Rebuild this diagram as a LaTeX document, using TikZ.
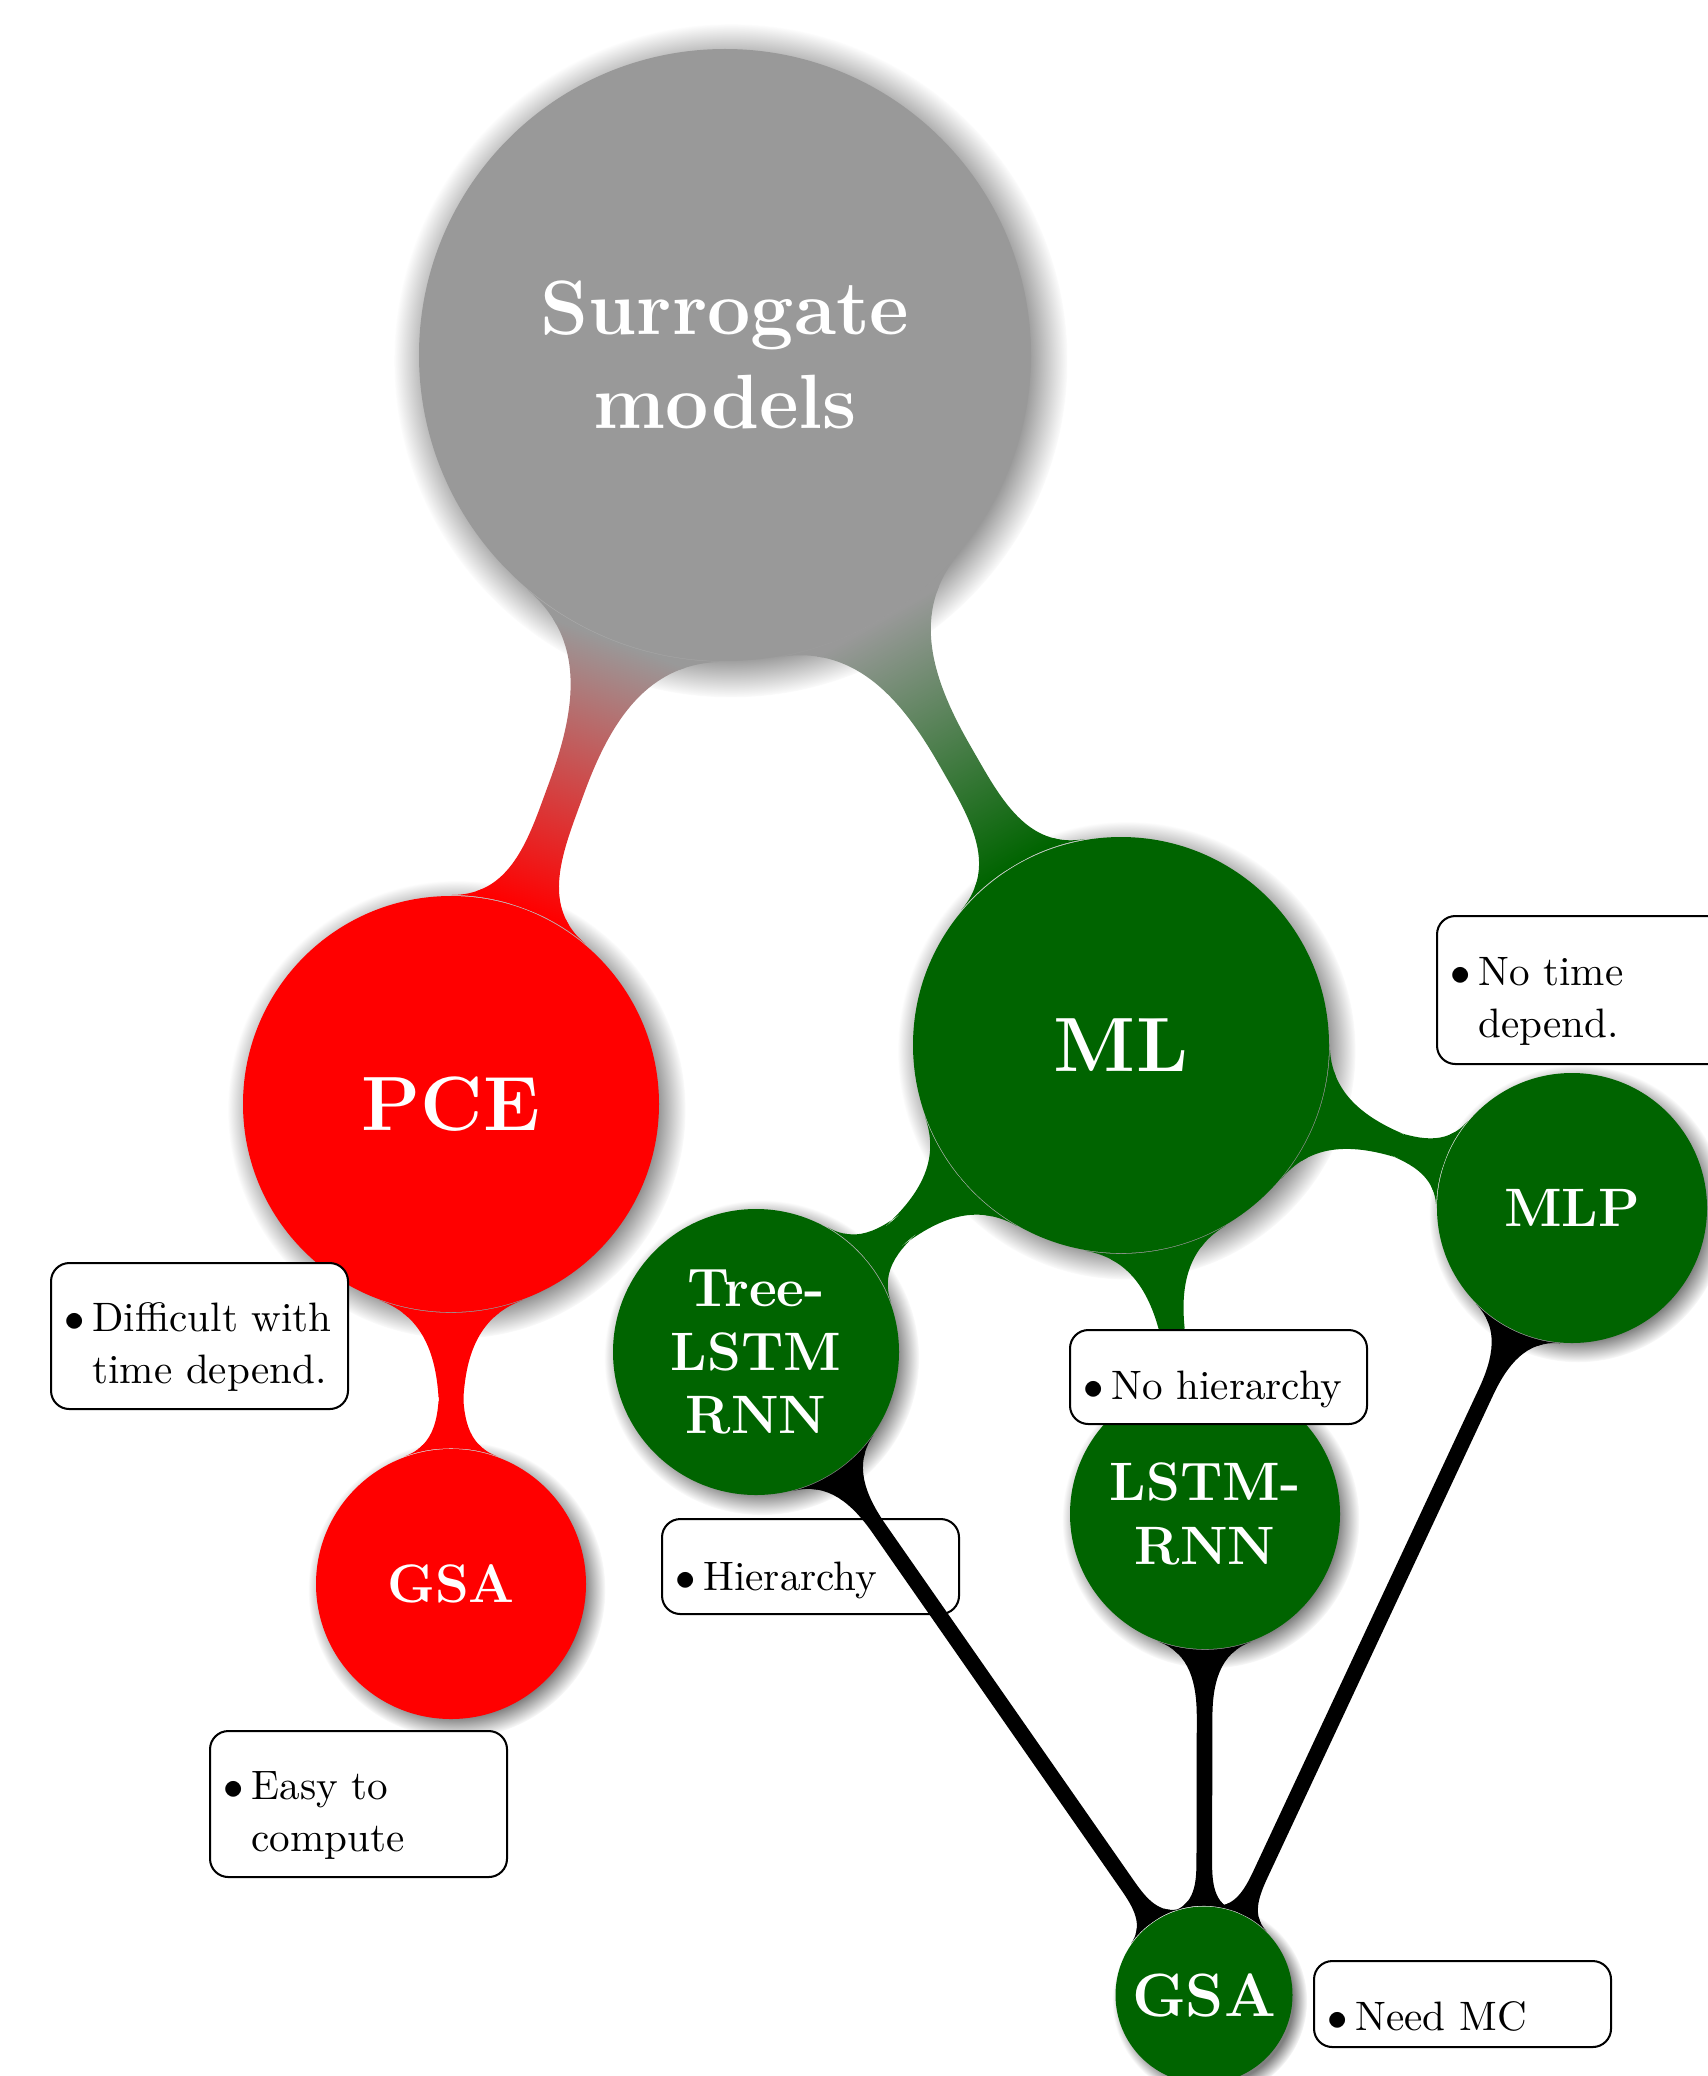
\documentclass[tikz,border=0pt]{standalone}
\usetikzlibrary{mindmap,shadows}
\definecolor{rootgray}{gray}{0.6}
\definecolor{mlgreen}{RGB}{0,100,0}
% one drawing unit
\newdimen\pxu
\pxu=0.2457pt
% a bulleted note: first line after the bullet, further lines aligned with it
\newcommand{\notetext}[1]{\makebox[297\pxu][l]{\hspace{13.8\pxu}$\bullet$\hspace{7.3\pxu}\begin{tabular}[t]{@{}l@{}}#1\end{tabular}}}
\begin{document}
\begin{tikzpicture}[x=0.2457pt,y=-0.2457pt,
  bubble/.style={circle, inner sep=0pt, text=white, align=center, circular drop shadow},
  bigfont/.style={font=\fontsize{18.9}{23}\selectfont\bfseries},
  midfont/.style={font=\fontsize{13.3}{15.6}\selectfont\bfseries},
  leaffont/.style={font=\fontsize{15}{17}\selectfont\bfseries},
  note/.style={draw=black, line width=0.5pt, rounded corners=4.5pt, fill=white,
    text=black, inner sep=0pt, anchor=north west, font=\fontsize{10.1}{13}\selectfont},
]
\useasboundingbox (0,0) rectangle (1708,2076);

% concepts
\node[bubble, bigfont, fill=rootgray, minimum size=612\pxu, text width=420\pxu] (root) at (725,355) {Surrogate\\models};
\node[bubble, bigfont, fill=red, minimum size=416\pxu, text width=250\pxu] (pce) at (451,1104) {PCE};
\node[bubble, bigfont, fill=mlgreen, minimum size=416\pxu, text width=250\pxu] (ml) at (1121,1045) {ML};
\node[bubble, midfont, fill=red, minimum size=270\pxu, text width=180\pxu] (gsaA) at (451,1584) {GSA};
\node[bubble, midfont, fill=mlgreen, minimum size=286\pxu, text width=180\pxu] (tree) at (756,1352) {Tree-\\LSTM\\RNN};
\node[bubble, midfont, fill=mlgreen, minimum size=270\pxu, text width=200\pxu] (lstm) at (1205,1514) {LSTM-\\RNN};
\node[bubble, midfont, fill=mlgreen, minimum size=270\pxu, text width=180\pxu] (mlp) at (1572,1208) {MLP};
\node[bubble, leaffont, fill=mlgreen, minimum size=177\pxu, text width=150\pxu] (gsaB) at (1204,1995) {GSA};

% coloured connection bars
\path (root) to[circle connection bar switch color=from (rootgray) to (red)] (pce);
\path (root) to[circle connection bar switch color=from (rootgray) to (mlgreen)] (ml);
\path (pce) to[circle connection bar switch color=from (red) to (red)] (gsaA);
\path (ml) to[circle connection bar switch color=from (mlgreen) to (mlgreen)] (tree);
\path (ml) to[circle connection bar switch color=from (mlgreen) to (mlgreen)] (lstm);
\path (ml) to[circle connection bar switch color=from (mlgreen) to (mlgreen)] (mlp);

% notes
\node[note, text height=69\pxu, text depth=79\pxu] (nTime) at (1436,915) {\notetext{No time\\depend.}};
\node[note, text height=68\pxu, text depth=78\pxu] (nDiff) at (50,1262) {\notetext{Difficult with\\time depend.}};
\node[note, text height=68\pxu, text depth=78\pxu] (nEasy) at (209,1730) {\notetext{Easy to\\compute}};
\node[note, text height=71\pxu, text depth=24\pxu] (nHier) at (661,1518) {\notetext{Hierarchy}};
\node[note, text height=69\pxu, text depth=25\pxu] (nNoHier) at (1069,1329) {\notetext{No hierarchy}};
\node[note, text height=69\pxu, text depth=17\pxu] (nMC) at (1313,1960) {\notetext{Need MC}};

% black bars into the lower GSA
\path (tree) to[circle connection bar switch color=from (black) to (black)] (gsaB);
\path (lstm) to[circle connection bar switch color=from (black) to (black)] (gsaB);
\path (mlp) to[circle connection bar switch color=from (black) to (black)] (gsaB);
\end{tikzpicture}
\end{document}
